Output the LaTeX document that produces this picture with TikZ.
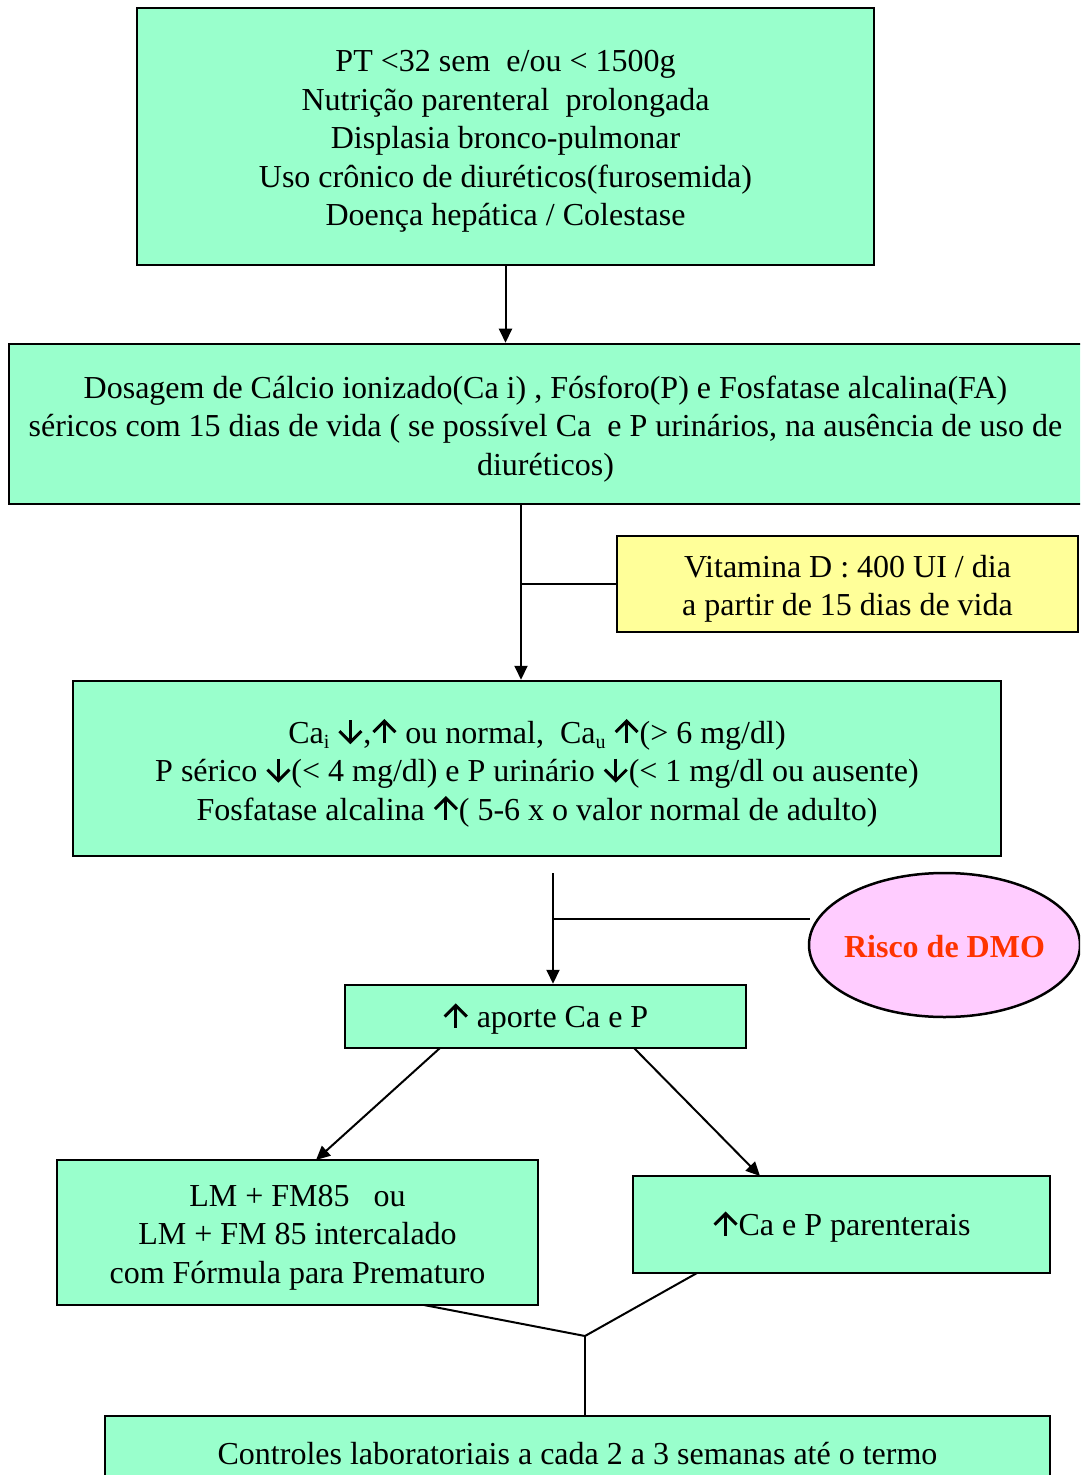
\documentclass[tikz,border=0pt]{standalone}
\usepackage{fontspec}
\setmainfont{Liberation Serif}
\usetikzlibrary{shapes.geometric,arrows.meta}
\definecolor{boxgreen}{HTML}{99FFCC}
\definecolor{boxyellow}{HTML}{FFFF99}
\definecolor{boxpink}{HTML}{FFCCFF}
\definecolor{riskred}{HTML}{FF3300}
\tikzset{
  box/.style={draw=black, line width=1.25pt, fill=boxgreen, inner sep=0pt},
  txt/.style={align=center, inner sep=0pt, font=\fontsize{16pt}{19.25pt}\selectfont},
  conn/.style={line width=1pt},
  arr/.style={conn, -{Triangle[length=7pt,width=6.5pt]}},
}
\newsavebox\upbox
\newsavebox\dnbox
\newcommand{\dnar}{\usebox\dnbox}
\newcommand{\upar}{\usebox\upbox}
\newcommand{\subtx}[1]{\raisebox{-0.35ex}{\fontsize{10pt}{10pt}\selectfont #1}}
\begin{document}
\sbox\upbox{\begin{pgfpicture}
  \pgfpathrectangle{\pgfpoint{-6.5pt}{0pt}}{\pgfpoint{13pt}{11.5pt}}
  \pgfusepath{use as bounding box}
  \pgfsetlinewidth{1.5pt}
  \pgfsetmiterlimit{10}
  \pgfpathmoveto{\pgfpoint{0pt}{0pt}}\pgfpathlineto{\pgfpoint{0pt}{10.8pt}}
  \pgfusepath{stroke}
  \pgfpathmoveto{\pgfpoint{-5.5pt}{5.5pt}}\pgfpathlineto{\pgfpoint{0pt}{11pt}}\pgfpathlineto{\pgfpoint{5.5pt}{5.5pt}}
  \pgfusepath{stroke}
\end{pgfpicture}}
\sbox\dnbox{\begin{pgfpicture}
  \pgfpathrectangle{\pgfpoint{-6.5pt}{0pt}}{\pgfpoint{13pt}{11.5pt}}
  \pgfusepath{use as bounding box}
  \pgfsetlinewidth{1.5pt}
  \pgfsetmiterlimit{10}
  \pgfpathmoveto{\pgfpoint{0pt}{11.5pt}}\pgfpathlineto{\pgfpoint{0pt}{0.7pt}}
  \pgfusepath{stroke}
  \pgfpathmoveto{\pgfpoint{-5.5pt}{6pt}}\pgfpathlineto{\pgfpoint{0pt}{0.5pt}}\pgfpathlineto{\pgfpoint{5.5pt}{6pt}}
  \pgfusepath{stroke}
\end{pgfpicture}}
\begin{tikzpicture}[x=0.5pt,y=-0.5pt]
\useasboundingbox (0,0) rectangle (1080,1475);
\clip (0,0) rectangle (1080,1475);

\node[box, minimum width=368.5pt, minimum height=128.5pt] (b1) at (505.5,136.5) {};
\node[txt] (t1) at ([yshift=-2.5pt]b1.center)
  {PT <32 sem\ \ e/ou < 1500g\\ Nutrição parenteral\ \ prolongada\\ Displasia bronco-pulmonar\\ Uso crônico de diuréticos(furosemida)\\ Doença hepática / Colestase};

\node[box, minimum width=536.5pt, minimum height=80pt] (b2) at (545.5,424) {};
\node[txt] (t2) at ([yshift=-2.5pt]b2.center)
  {Dosagem de Cálcio ionizado(Ca i) , Fósforo(P) e Fosfatase alcalina(FA)\\ séricos com 15 dias de vida ( se possível Ca\ \ e P urinários, na ausência de uso de\\ diuréticos)};

\node[box, fill=boxyellow, minimum width=230.5pt, minimum height=48pt] (vit) at (847.5,584) {};
\node[txt] (tv) at ([yshift=-2.5pt]vit.center)
  {Vitamina D : 400 UI / dia\\ a partir de 15 dias de vida};

\node[box, minimum width=464pt, minimum height=87.5pt] (b3) at (537,768.5) {};
\node[txt] (t3) at ([yshift=-2.5pt]b3.center)
  {Ca\subtx{i} \dnar,\upar\ ou normal,\ \ Ca\subtx{u} \upar(> 6 mg/dl)\\ P sérico \dnar(< 4 mg/dl) e P urinário \dnar(< 1 mg/dl ou ausente)\\ Fosfatase alcalina \upar( 5-6 x o valor normal de adulto)};

\node[ellipse, draw=black, line width=1.25pt, fill=boxpink, inner sep=0pt,
  minimum width=135.5pt, minimum height=72pt] (risk) at (944.5,945) {};
\node[txt, text=riskred, font=\fontsize{16pt}{19pt}\selectfont\bfseries] (tr) at ([yshift=-1pt]risk.center) {Risco de DMO};

\node[box, minimum width=200.5pt, minimum height=31.5pt] (b4) at (545.5,1016.5) {};
\node[txt] (t4) at ([yshift=-1.5pt]b4.center) {\upar\ aporte Ca e P};

\node[box, minimum width=240.5pt, minimum height=72.5pt] (b5) at (297.5,1232.5) {};
\node[txt] (t5) at ([yshift=-2.5pt]b5.center)
  {LM + FM85\ \ \ ou\\ LM + FM 85 intercalado\\ com Fórmula para Prematuro};

\node[box, minimum width=208.5pt, minimum height=48.5pt] (b6) at (841.5,1224.5) {};
\node[txt] (t6) at ([yshift=-1.5pt]b6.center) {\upar Ca e P parenterais};

\node[box, minimum width=472.5pt, minimum height=35pt] (b7) at (577.5,1451) {};
\node[txt] (t7) at ([yshift=-1.5pt]b7.center) {Controles laboratoriais a cada 2 a 3 semanas até o termo};

% connectors
\draw[arr] (b1.south) -- (b2.north -| b1.south);

\coordinate (j1) at (521,584);
\draw[arr] (b2.south -| j1) -- (b3.north -| j1);
\draw[conn] (j1) -- (vit.west);

\coordinate (s2) at (553,873);
\coordinate (j2) at (553,919);
\coordinate (e2) at (810,919);
\draw[arr] (s2) -- (b4.north -| s2);
\draw[conn] (j2) -- (e2);

\coordinate (o5) at (440,1048);
\coordinate (d5) at (316,1160);
\coordinate (o6) at (634,1048);
\coordinate (d6) at (760,1176);
\draw[arr] (o5) -- (d5);
\draw[arr] (o6) -- (d6);

\coordinate (f5) at (424,1305);
\coordinate (f6) at (697,1273);
\coordinate (m) at (585,1336);
\draw[conn] (f5) -- (m) -- (f6);
\draw[conn] (m) -- (b7.north -| m);
\end{tikzpicture}
\end{document}
